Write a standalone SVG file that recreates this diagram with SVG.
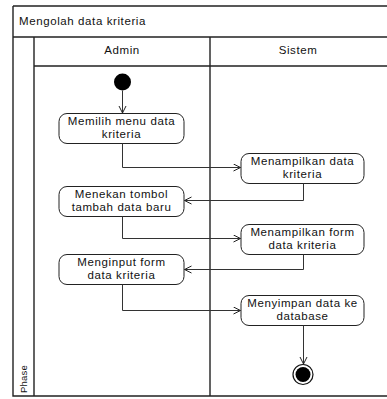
<svg xmlns="http://www.w3.org/2000/svg" width="387" height="399" viewBox="0 0 387 399">
<defs>
<marker id="arr" markerWidth="10" markerHeight="10" refX="8" refY="4" orient="auto" markerUnits="userSpaceOnUse">
<path d="M1,0.5 L8,4 L1,7.5" fill="none" stroke="#222" stroke-width="1"/>
</marker>
<style>
.frame{fill:none;stroke:#222;stroke-width:1.4}
.node rect{fill:#fff;stroke:#222;stroke-width:1}
.t{font-family:"Liberation Sans",Arial,sans-serif;font-size:11.5px;letter-spacing:0.6px;fill:#111;text-anchor:middle}
.c{fill:none;stroke:#333;stroke-width:1;marker-end:url(#arr)}
</style>
</defs>
<rect x="0" y="0" width="387" height="399" fill="#fff"/>
<g id="frame">
<path class="frame" d="M13,6 H387 M13,6 V396 H387 M13,37 H387 M34,37 V396 M34,66 H387 M210,37 V396"/>
<text x="19" y="25" class="t" style="text-anchor:start">Mengolah data kriteria</text>
<text x="122" y="54" class="t">Admin</text>
<text x="298" y="54" class="t">Sistem</text>
<text transform="translate(27,393) rotate(-90)" x="0" y="0" class="t" style="text-anchor:start;font-size:9.5px;letter-spacing:0.2px">Phase</text>
</g>
<g id="start"><circle cx="122.5" cy="82" r="8.5" fill="#000"/></g>
<g id="n1" class="node"><rect x="59" y="113.5" width="125" height="30" rx="8"/><text class="t" x="121.5" y="124.5">Memilih menu data</text><text class="t" x="121.5" y="138">kriteria</text></g>
<g id="n2" class="node"><rect x="241" y="153.5" width="123" height="30" rx="8"/><text class="t" x="302.5" y="164.5">Menampilkan data</text><text class="t" x="302.5" y="178">kriteria</text></g>
<g id="n3" class="node"><rect x="59" y="186.5" width="125" height="30" rx="8"/><text class="t" x="121.5" y="197.5">Menekan tombol</text><text class="t" x="121.5" y="211">tambah data baru</text></g>
<g id="n4" class="node"><rect x="241" y="224.5" width="123" height="30" rx="8"/><text class="t" x="302.5" y="235.5">Menampilkan form</text><text class="t" x="302.5" y="249">data kriteria</text></g>
<g id="n5" class="node"><rect x="59" y="254.5" width="125" height="30" rx="8"/><text class="t" x="121.5" y="265.5">Menginput form</text><text class="t" x="121.5" y="279">data kriteria</text></g>
<g id="n6" class="node"><rect x="241" y="295.5" width="123" height="30" rx="8"/><text class="t" x="302.5" y="306.5">Menyimpan data ke</text><text class="t" x="302.5" y="320">database</text></g>
<g id="end"><circle cx="303" cy="374.5" r="10" fill="#fff" stroke="#111" stroke-width="1.2"/><circle cx="303" cy="374.5" r="7.5" fill="#000"/></g>
<g id="connectors">
<path class="c" d="M122.5,90.5 V113"/>
<path class="c" d="M122.5,143.5 V167.5 H240.5"/>
<path class="c" d="M303.5,183.5 V200.5 H184.5"/>
<path class="c" d="M122.5,216.5 V238.5 H240.5"/>
<path class="c" d="M303.5,254.5 V269.5 H184.5"/>
<path class="c" d="M122.5,284.5 V310.5 H240.5"/>
<path class="c" d="M303.5,325.5 V364"/>
</g>
</svg>
